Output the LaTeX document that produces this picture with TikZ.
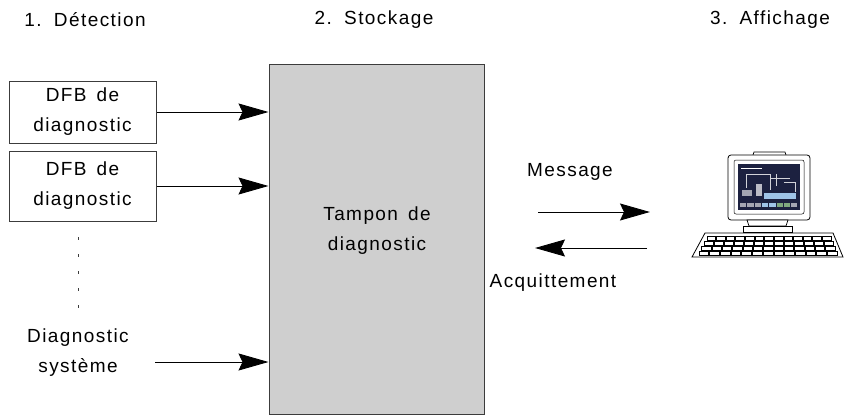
\documentclass[tikz,border=0pt]{standalone}
\usepackage{fontspec}
\setmainfont{Liberation Sans}[LetterSpace=7.5, WordSpace=1.5]
\usetikzlibrary{arrows.meta,calc,positioning}
\definecolor{tampongris}{HTML}{CFCFCF}
\definecolor{bord}{HTML}{3C3C3C}
\definecolor{ecran}{HTML}{1C2140}
\definecolor{ecranbleu}{HTML}{9FC4E8}
\definecolor{ecranvert}{HTML}{7FA87F}
\tikzset{
  txt/.style={font=\fontsize{19}{30}\selectfont, align=center, inner sep=0pt},
  dfb/.style={txt, draw=bord, line width=1pt, minimum width=147pt},
  fleche/.style={line width=0.9pt, -{Stealth[length=30pt,width=17pt,inset=4pt]}},
}

\begin{document}
\begin{tikzpicture}[x=1pt,y=-1pt]
    \useasboundingbox (0,0) rectangle (844,415);

    % Titres
    \node[txt] (detection) at (85,20) {1. Détection};
    \node[txt] (stockage) at (374,20) {2. Stockage};
    \node[txt] (affichage) at (770,20) {3. Affichage};

    % Tampon
    \node[draw=bord, line width=1pt, fill=tampongris, minimum width=215pt,
          minimum height=350pt, inner sep=0pt] (tampon) at (376.5,239) {};
    \node[txt] (tamponlbl) at (377,231) {Tampon de\\diagnostic};

    % Sources
    \node[dfb, minimum height=62pt] (dfbA) at (82.5,112) {DFB de\\diagnostic};
    \node[dfb, minimum height=70pt] (dfbB) at (82.5,186) {DFB de\\diagnostic};
    \node[txt] (systeme) at (78,353) {Diagnostic\\système};

    \coordinate (pointsA) at (78,237);
    \coordinate (pointsB) at (78,316);
    \draw[bord, line width=0.8pt, dash pattern=on 3pt off 14pt] (pointsA) -- (pointsB);

    \coordinate (sysdep) at (155,362);
    \draw[fleche] (dfbA.east) -- (dfbA.east -| tampon.west);
    \draw[fleche] (dfbB.east) -- (dfbB.east -| tampon.west);
    \draw[fleche] (sysdep) -- (sysdep -| tampon.west);

    % Echanges
    \node[txt] (message) at (570,172) {Message};
    \node[txt] (acquit) at (553,283) {Acquittement};
    \coordinate (msgA) at (538,212);
    \coordinate (msgB) at (650,212);
    \coordinate (ackA) at (647,248);
    \coordinate (ackB) at (535,248);
    \draw[fleche] (msgA) -- (msgB);
    \draw[fleche] (ackA) -- (ackB);

    % Poste
    \draw[line width=0.7pt, fill=white] (753,155) -- (754,152) -- (785,152) -- (786,155);
    \draw[line width=0.8pt, fill=white, rounded corners=3pt] (728,155) rectangle (810,220);
    \draw[line width=0.5pt, fill=white, rounded corners=2pt] (734,160) rectangle (804,214);
    \fill[ecran] (738,164) rectangle (800,210);
    \draw[white, line width=0.6pt] (741,168) -- (762,168);
    \draw[white!80!ecran, line width=0.4pt] (746,174) -- (770,174) -- (770,190)
        (770,178) -- (790,178) (776,174) -- (776,186) (746,174) -- (746,188)
        (784,182) -- (795,182) -- (795,192);
    \fill[ecranbleu] (764,193) rectangle (796,199);
    \fill[white!70!ecran] (756,184) rectangle (762,196);
    \fill[white!60!ecran] (742,190) rectangle (752,196);
    \foreach \i/\c in {0/white!60!ecran,1/white!60!ecran,2/white!60!ecran,
                       3/ecranbleu,4/ecranbleu,5/ecranvert,6/ecranvert,7/white!60!ecran}
      \fill[\c] ({740+\i*7.3},203) rectangle ++(6.3,4);
    \draw[line width=0.7pt, fill=white] (747,220) -- (788,220) -- (786,226) -- (749,226) -- cycle;
    \draw[line width=0.7pt, fill=white] (743,226) rectangle (792,232);

    % Clavier
    \draw[line width=0.8pt, fill=white] (705,233) -- (833,233) -- (843,257) -- (692,257) -- cycle;
    \foreach \r in {0,...,3}{
      \pgfmathsetmacro\ky{236+\r*5}
      \pgfmathsetmacro\kl{705-(\ky-233)*13/24+3}
      \pgfmathsetmacro\kr{833+(\ky-233)*10/24-3}
      \pgfmathsetmacro\kw{(\kr-\kl)/13}
      \foreach \c in {0,...,12}
        \draw[line width=0.4pt] ({\kl+\c*\kw+0.5},\ky) rectangle ++({\kw-1},4);
    }
\end{tikzpicture}
\end{document}
